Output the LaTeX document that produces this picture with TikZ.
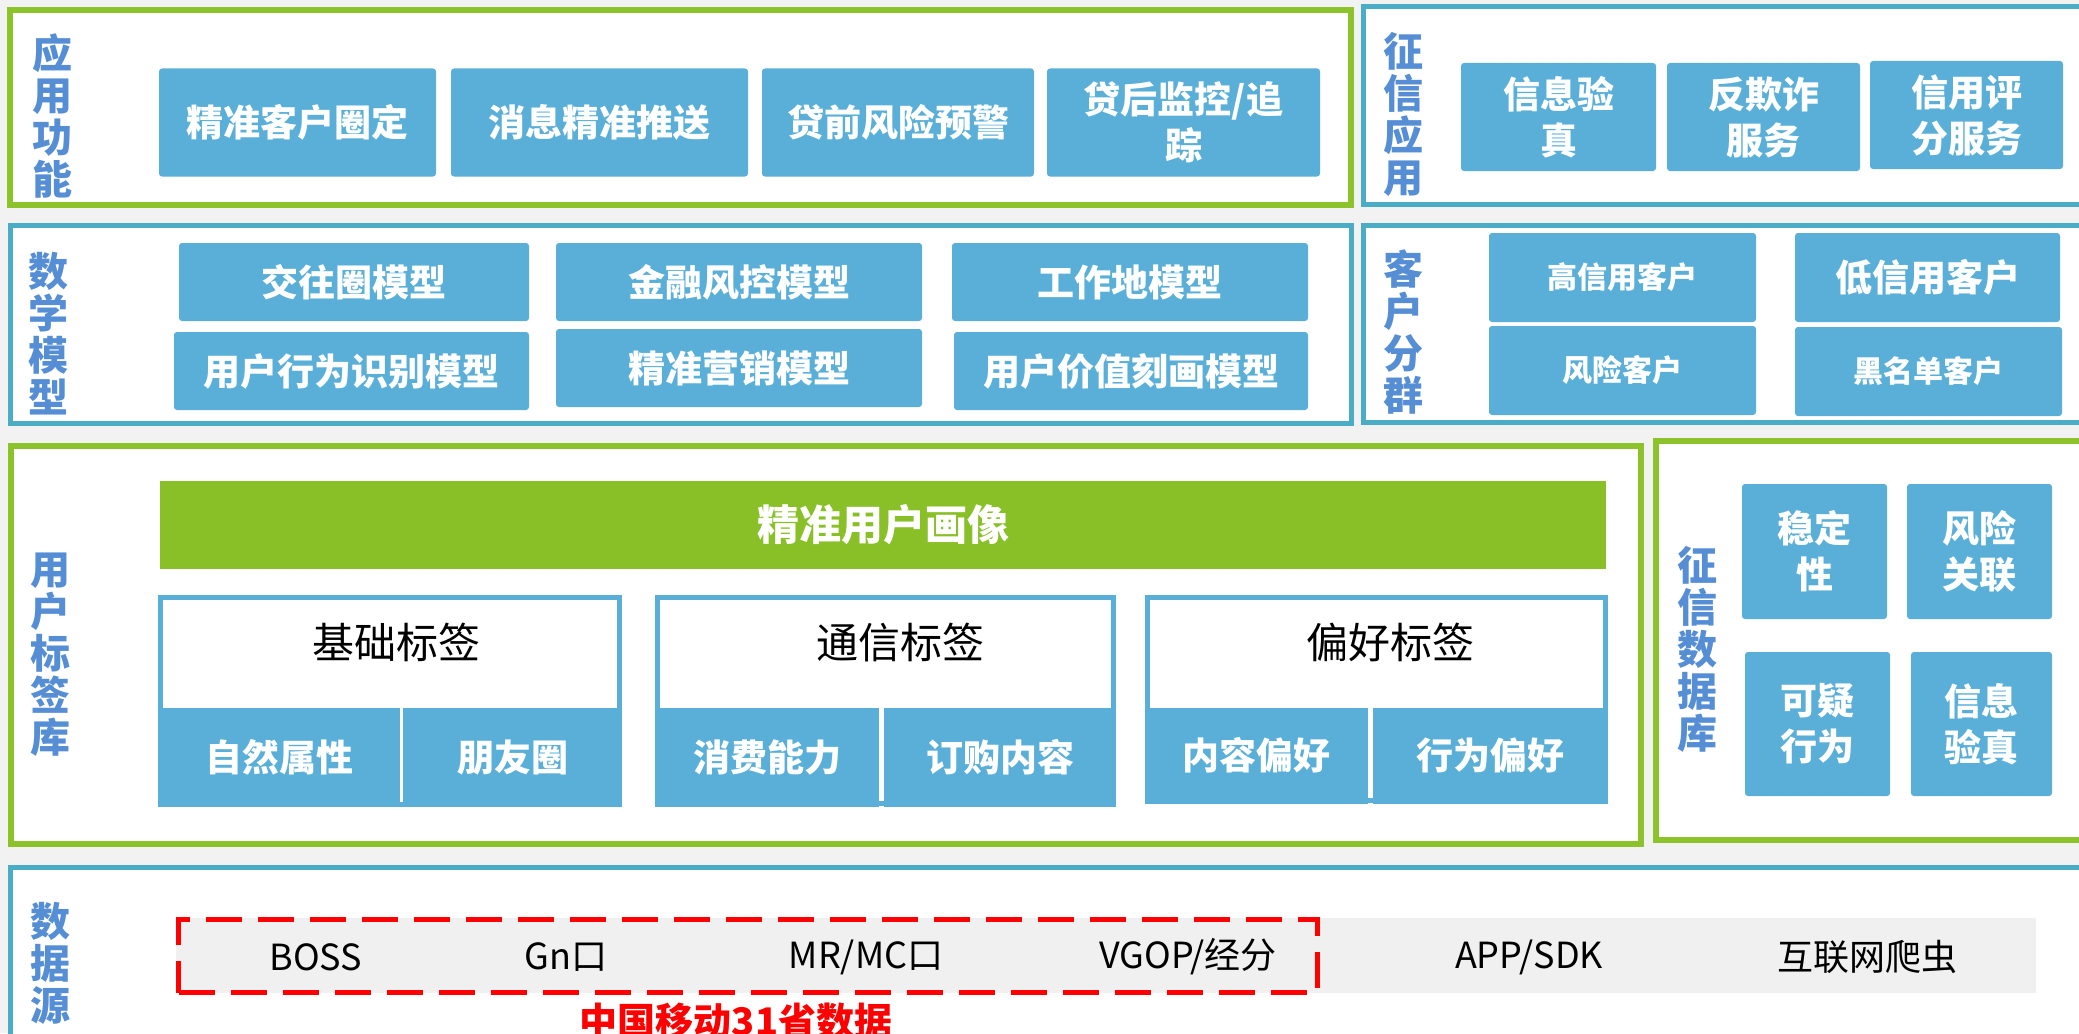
\documentclass[tikz,border=0pt]{standalone}
\usepackage{fontspec}
\setmainfont{Noto Sans CJK SC}
\definecolor{bgc}{RGB}{242,242,242}
\definecolor{pgreen}{RGB}{140,194,42}
\definecolor{bargreen}{RGB}{137,192,40}
\definecolor{pteal}{RGB}{75,172,198}
\definecolor{boxblue}{RGB}{90,175,217}
\definecolor{lblue}{RGB}{85,142,213}
\definecolor{dsgray}{RGB}{240,240,240}
\definecolor{dsred}{RGB}{255,0,0}
\tikzset{
  panelG/.style={draw=pgreen, line width=6pt, fill=white},
  panelT/.style={draw=pteal, line width=5pt, fill=white},
  box/.style={fill=boxblue, rounded corners=3pt, text=white, inner sep=0pt, align=center,
    font=\fontsize{37}{46}\selectfont\bfseries},
  cell/.style={fill=boxblue, text=white, inner sep=0pt, align=center,
    font=\fontsize{37}{46}\selectfont\bfseries},
  group/.style={draw=boxblue, line width=5pt, fill=white, inner sep=0pt},
  tagtitle/.style={text=black, inner sep=0pt, font=\fontsize{42}{46}\selectfont},
  vlabel/.style={text=lblue, inner sep=0pt, align=center, font=\fontsize{40}{42}\selectfont\bfseries},
  dsitem/.style={text=black, inner sep=0pt, font=\fontsize{36}{40}\selectfont},
}
\begin{document}
\begin{tikzpicture}[x=1pt,y=-1pt]
\useasboundingbox (0,0) rectangle (2079,1033);
\fill[bgc] (0,0) rectangle (2079,1033);
\clip (0,0) rectangle (2079,1033);
% panels
\draw[panelG] (10,10) rectangle (1351,205);
\draw[panelT] (1363,7) rectangle (2095,204);
\draw[panelT] (10,225) rectangle (1351,423);
\draw[panelT] (1363,225) rectangle (2095,422);
\draw[panelG] (11,446) rectangle (1641,844);
\draw[panelG] (1656,441) rectangle (2095,840);
\draw[panelT] (10,867) rectangle (2095,1050);
% side labels
\node[vlabel] (l1) at (52,116) {应\\用\\功\\能};
\node[vlabel] (l2) at (1403,114) {征\\信\\应\\用};
\node[vlabel] (l3) at (48,334) {数\\学\\模\\型};
\node[vlabel] (l4) at (1403,332) {客\\户\\分\\群};
\node[vlabel] (l5) at (50,655) {用\\户\\标\\签\\库};
\node[vlabel] (l6) at (1697,649) {征\\信\\数\\据\\库};
\node[vlabel] (l7) at (50,963) {数\\据\\源};
% application functions
\node[box, minimum width=277pt, minimum height=108pt] (a1) at (297.5,122.5) {精准客户圈定};
\node[box, minimum width=297pt, minimum height=108pt] (a2) at (599.5,122.5) {消息精准推送};
\node[box, minimum width=272pt, minimum height=108pt] (a3) at (898,122.5) {贷前风险预警};
\node[box, minimum width=273pt, minimum height=108pt] (a4) at (1183.5,122.5) {贷后监控/追\\踪};
% credit applications
\node[box, minimum width=195pt, minimum height=108pt] (b1) at (1558.5,117) {信息验\\真};
\node[box, minimum width=193pt, minimum height=108pt] (b2) at (1763.5,117) {反欺诈\\服务};
\node[box, minimum width=193pt, minimum height=108pt] (b3) at (1966.5,115) {信用评\\分服务};
% math models
\node[box, minimum width=350pt, minimum height=78pt] (m1) at (354,282) {交往圈模型};
\node[box, minimum width=366pt, minimum height=78pt] (m2) at (739,282) {金融风控模型};
\node[box, minimum width=356pt, minimum height=78pt] (m3) at (1130,282) {工作地模型};
\node[box, minimum width=355pt, minimum height=78pt] (m4) at (351.5,371) {用户行为识别模型};
\node[box, minimum width=366pt, minimum height=78pt] (m5) at (739,368) {精准营销模型};
\node[box, minimum width=354pt, minimum height=78pt] (m6) at (1131,371) {用户价值刻画模型};
% customer groups
\node[box, minimum width=267pt, minimum height=89pt, font=\fontsize{30}{36}\selectfont\bfseries] (c1) at (1622.5,277.5) {高信用客户};
\node[box, minimum width=265pt, minimum height=89pt] (c2) at (1927.5,277.5) {低信用客户};
\node[box, minimum width=267pt, minimum height=89pt, font=\fontsize{30}{36}\selectfont\bfseries] (c3) at (1622.5,370.5) {风险客户};
\node[box, minimum width=267pt, minimum height=89pt, font=\fontsize{30}{36}\selectfont\bfseries] (c4) at (1928.5,371.5) {黑名单客户};
% user tag library
\node[fill=bargreen, text=white, inner sep=0pt, minimum width=1446pt, minimum height=88pt,
  font=\fontsize{42}{46}\selectfont\bfseries] (portrait) at (883,525) {精准用户画像};
\node[group, minimum width=459pt, minimum height=207pt] (g1) at (390,701) {};
\node[group, minimum width=456pt, minimum height=206pt] (g2) at (885.5,700.5) {};
\node[group, minimum width=458pt, minimum height=203pt] (g3) at (1376.5,699) {};
\node[tagtitle] (t1) at (396,642) {基础标签};
\node[tagtitle] (t2) at (900,642) {通信标签};
\node[tagtitle] (t3) at (1390,642) {偏好标签};
\node[cell, minimum width=242pt, minimum height=99pt] (c11) at (279,757.5) {自然属性};
\node[cell, minimum width=219pt, minimum height=99pt] (c12) at (512.5,757.5) {朋友圈};
\node[cell, minimum width=224pt, minimum height=99pt] (c21) at (767,757) {消费能力};
\node[cell, minimum width=232pt, minimum height=99pt] (c22) at (1000,757) {订购内容};
\node[cell, minimum width=223pt, minimum height=96pt] (c31) at (1256.5,755.5) {内容偏好};
\node[cell, minimum width=235pt, minimum height=96pt] (c32) at (1490.5,755.5) {行为偏好};
% credit database
\node[box, minimum width=145pt, minimum height=135pt] (d1) at (1814.5,551.5) {稳定\\性};
\node[box, minimum width=145pt, minimum height=135pt] (d2) at (1979.5,551.5) {风险\\关联};
\node[box, minimum width=145pt, minimum height=144pt] (d3) at (1817.5,724) {可疑\\行为};
\node[box, minimum width=141pt, minimum height=144pt] (d4) at (1981.5,724) {信息\\验真};
% data sources
\node[fill=dsgray, inner sep=0pt, minimum width=1860pt, minimum height=75pt] (dsbar) at (1106,955.5) {};
\node[draw=dsred, line width=5pt, dash pattern=on 36pt off 16pt, inner sep=0pt,
  minimum width=1139pt, minimum height=73pt] (cm) at (748,956) {};
\node[dsitem] (s1) at (316,957) {BOSS};
\node[dsitem] (s2) at (566,957) {Gn口};
\node[dsitem] (s3) at (866,957) {MR/MC口};
\node[dsitem] (s4) at (1188,957) {VGOP/经分};
\node[dsitem] (s5) at (1529,957) {APP/SDK};
\node[dsitem] (s6) at (1867,957) {互联网爬虫};
\node[text=dsred, inner sep=0pt, font=\fontsize{38}{42}\selectfont\bfseries] (cmlabel) at (736,1021) {中国移动31省数据};
\end{tikzpicture}
\end{document}
